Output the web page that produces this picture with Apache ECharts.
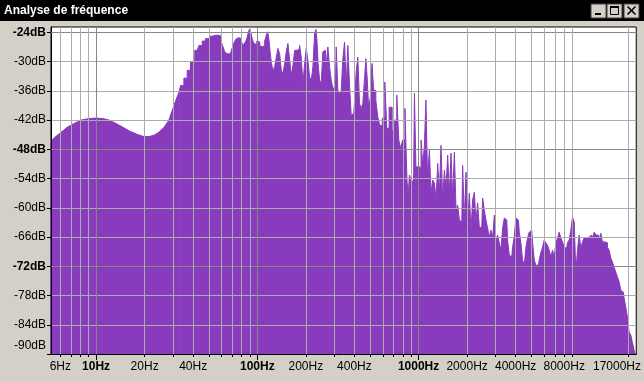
<!DOCTYPE html>
<html><head><meta charset="utf-8">
<script src="https://cdn.jsdelivr.net/npm/echarts@6/dist/echarts.min.js"></script>
<style>html,body{margin:0;padding:0;background:#d4d0c8;}#c{width:644px;height:382px;}</style>
</head><body><div id="c"></div>
<script>
const title = 'Analyse de fréquence';
const freqHz = [
5.19,5.57,6.07,6.61,7.31,8.08,9.05,10.0,11.05,12.0,13.3,14.7,16.2,17.9,19.8,21.3,22.9,24.5,26.4,28.3,30.4,
32.7,34.2,35.9,37.6,39.5,42.4,44.5,46.6,48.9,52.5,55.1,57.8,59.2,60.5,62.0,63.6,65.0,68.2,69.8,71.5,73.3,75.0,76.8,78.7,80.5,82.5,84.5,86.5,88.6,89.9,92.1,93.8,96.5,98.3,
100.3,102.2,104.7,107.1,109.7,112.4,115.0,116.7,119.0,121.2,123.5,126.5,129.7,132.6,135.9,139.2,142.4,146.0,149.5,152.9,156.7,160.6,164.3,168.3,172.4,180.7,185.1,189.4,194.1,198.8,
203.4,208.4,213.5,218.5,223.8,229.3,232.6,235.9,240.4,246.3,251.8,258.0,264.4,270.5,277.2,283.9,290.5,297.7,305.0,312.0,319.6,327.5,335.1,343.3,351.7,359.8,368.6,377.7,386.4,395.9,
405.5,414.9,425.1,435.5,445.6,456.5,467.7,474.4,485.4,495.1,509.4,519.0,534.1,551.9,565.4,584.3,607.2,627.4,642.7,670.9,700.3,720.6,744.6,762.9,784.8,807.5,839.2,855.0,867.3,888.5,909.0,931.1,954.1,971.8,
1000,1024,1048,1074,1100,1121,1153,1181,1209,1238,1269,1298,1330,1362,1394,1428,1463,1497,1534,1571,1607,1647,1688,1727,1769,1813,1854,1899,1946,1991,
2040,2090,2138,2191,2244,2296,2352,2410,2466,2526,2588,2648,2713,2780,2844,2914,2986,3054,3129,3206,3280,3360,3442,3522,3608,3696,3781,3874,3969,
4061,4160,4262,4361,4468,4578,4684,4799,4917,5030,5154,5280,5402,5534,5670,5801,5943,6089,6230,6383,6539,6690,6854,7022,7185,7361,7541,7715,7905,
8099,8286,8489,8697,8898,9117,9339,9555,9789,10030,10260,10510,10770,11020,11290,11570,11840,12120,12420,12710,13020,13340,13650,13980,14330,14660,
15020,15380,15740,16130,16520,16900,17320,17740,18150,18600,19060,19500,19970,20460,20940,21450,21970,22050
];
const levelDb = [
-46.5,-45.5,-44.5,-43.5,-42.7,-42.0,-41.7,-41.6,-41.7,-42.0,-42.7,-43.5,-44.3,-44.9,-45.4,-45.4,-45.1,-44.5,-43.5,-42.0,-39.0,
-36.2,-34.9,-33.4,-31.8,-30.1,-27.7,-26.7,-25.8,-25.3,-24.8,-24.6,-24.6,-24.8,-26.0,-27.0,-28.0,-28.4,-28.4,-27.7,-26.7,-25.8,-25.3,-25.1,-25.3,-25.8,-26.7,-26.2,-25.6,-24.3,-23.4,-23.9,-25.3,-26.3,-26.5,
-25.8,-26.0,-26.7,-27.0,-26.7,-25.8,-24.6,-23.9,-25.3,-28.0,-30.4,-31.8,-31.1,-29.1,-27.3,-28.4,-31.8,-32.5,-30.4,-28.0,-26.3,-29.7,-32.8,-30.8,-27.7,-27.3,-26.7,-29.1,-34.5,-30.4,
-27.3,-29.7,-33.2,-33.8,-31.1,-24.3,-23.4,-25.6,-30.4,-33.8,-34.5,-28.0,-27.7,-31.1,-27.0,-31.1,-33.8,-35.5,-35.2,-27.0,-35.9,-36.6,-35.9,-29.4,-26.0,-35.2,-26.7,-34.9,-41.0,-40.7,
-38.3,-32.1,-29.1,-38.6,-39.6,-38.6,-33.5,-29.4,-33.2,-39.6,-37.3,-30.4,-35.9,-37.9,-41.4,-43.1,-41.6,-34.2,-43.7,-39.4,-44.1,-42.0,-36.9,-46.1,-47.8,-46.1,-39.6,-54.3,-57.6,-53.3,-54.5,-54.5,-36.5,-51.7,
-51.5,-51.9,-46.1,-51.3,-47.2,-37.9,-53.7,-48.2,-57.0,-54.3,-54.9,-58.4,-50.9,-57.0,-47.2,-58.4,-52.3,-55.8,-49.2,-57.0,-48.8,-57.8,-48.6,-60.5,-59.5,-62.5,-62.9,-51.3,-62.5,-52.7,
-62.5,-57.0,-64.6,-58.4,-56.8,-62.9,-59.0,-64.0,-64.0,-58.0,-60.5,-62.5,-64.2,-66.0,-64.6,-66.2,-61.5,-67.0,-65.6,-67.2,-68.7,-64.2,-62.1,-62.5,-66.6,-69.7,-70.1,-68.1,-66.0,
-62.1,-62.5,-65.0,-67.2,-70.7,-71.8,-68.1,-66.2,-65.0,-64.6,-67.0,-70.7,-71.8,-71.8,-70.7,-69.1,-68.1,-66.6,-67.2,-67.7,-68.7,-70.1,-68.7,-70.1,-67.2,-66.2,-65.0,-66.2,-67.0,
-68.1,-68.3,-67.2,-66.6,-64.6,-61.9,-62.9,-73.2,-68.7,-65.6,-68.3,-67.0,-66.2,-66.2,-66.0,-66.2,-65.6,-66.2,-65.0,-65.6,-65.6,-66.6,-65.2,-67.0,-67.0,-67.2,
-68.1,-68.7,-70.3,-71.1,-72.2,-73.2,-74.2,-75.2,-76.9,-77.3,-78.5,-80.4,-82.4,-85.5,-86.1,-87.7,-89.2,-90
];
const gridHz = [6,7,8,9,10,20,30,40,50,60,70,80,90,100,200,300,400,500,600,700,800,900,1000,2000,3000,4000,5000,6000,7000,8000,9000,20000];
const decadeHz = [10,100,1000];
const labelHz = [6,10,20,40,100,200,400,1000,2000,4000,8000,17000];
const tickDb = [-90,-84,-78,-72,-66,-60,-54,-48,-42,-36,-30,-24];
const majorDb = [-72,-48,-24];
const smoothUpToHz = 32.7;

const lg = v => Math.log10(v);
const X_MIN = 0.7204, X_MAX = 4.35, Y_MIN = -90, Y_MAX = -22.91;
const FONT = '"Liberation Sans", Arial, sans-serif';
const LIGHT = '#ababab', DARK = '#868686', PURPLE = '#893bbd';

const pts = freqHz.map((f, i) => [lg(f), levelDb[i], f]);
const smoothPts = pts.filter(p => p[2] <= smoothUpToHz).map(p => [p[0], p[1]]);
const spikyPts = pts.filter(p => p[2] >= smoothUpToHz).map(p => [p[0], p[1]]);

const chart = echarts.init(document.getElementById('c'), null, {renderer: 'canvas'});
const richX = {
  n: {fontFamily: FONT, fontSize: 12, color: '#000'},
  b: {fontFamily: FONT, fontSize: 12, color: '#000', fontWeight: 'bold'}
};
const richY = {
  n: {fontFamily: FONT, fontSize: 12, color: '#000'},
  b: {fontFamily: FONT, fontSize: 12, color: '#000', fontWeight: 'bold'},
  low: {fontFamily: FONT, fontSize: 12, color: '#000', padding: [0, 0, 16, 0]}
};
const areaSeries = (data, step) => ({
  type: 'line', xAxisIndex: 0, yAxisIndex: 0, z: 1, silent: true, clip: true,
  symbol: 'none', step: step, data: data,
  lineStyle: {width: 1, color: PURPLE},
  areaStyle: {color: PURPLE, opacity: 1, origin: 'start'}
});
const option = {
  animation: false,
  backgroundColor: '#d4d0c8',
  grid: {left: 51, top: 27, width: 588, height: 327, show: true, backgroundColor: '#fff', borderColor: '#000', borderWidth: 1, z: 0},
  xAxis: [
    {type: 'value', min: X_MIN, max: X_MAX, position: 'bottom', z: 5,
     axisLine: {show: true, onZero: false, lineStyle: {color: '#000', width: 1}},
     axisTick: {show: true, customValues: gridHz.map(lg), length: 3, lineStyle: {color: '#000'}},
     axisLabel: {show: true, customValues: labelHz.map(lg), margin: 7, rich: richX,
       formatter: v => { const hz = Math.round(Math.pow(10, v)); return (decadeHz.includes(hz) ? '{b|' : '{n|') + hz + 'Hz}'; }},
     splitLine: {show: true, lineStyle: {color: LIGHT, width: 1}}},
    {type: 'value', min: X_MIN, max: X_MAX, position: 'bottom', z: 6,
     axisLine: {show: false, onZero: false},
     axisTick: {show: true, customValues: decadeHz.map(lg), length: 6, lineStyle: {color: '#000'}},
     axisLabel: {show: false},
     splitLine: {show: true, lineStyle: {color: DARK, width: 1}}}
  ],
  yAxis: [
    {type: 'value', min: Y_MIN, max: Y_MAX, position: 'left', z: 3,
     axisLine: {show: true, onZero: false, lineStyle: {color: '#000', width: 1}},
     axisTick: {show: true, customValues: tickDb, length: 4, lineStyle: {color: '#000'}},
     axisLabel: {show: true, customValues: tickDb, margin: 5, rich: richY,
       formatter: v => { const d = Math.round(v); if (d === -90) return '{low|-90dB}'; return (majorDb.includes(d) ? '{b|' : '{n|') + d + 'dB}'; }},
     splitLine: {show: true, lineStyle: {color: LIGHT, width: 1}}},
    {type: 'value', min: Y_MIN, max: Y_MAX, position: 'left', z: 4,
     axisLine: {show: false, onZero: false},
     axisTick: {show: false, customValues: majorDb},
     axisLabel: {show: false},
     splitLine: {show: true, lineStyle: {color: DARK, width: 1}}}
  ],
  series: [areaSeries(smoothPts, false), areaSeries(spikyPts, 'middle')],
  graphic: [
    {type: 'rect', shape: {x: 0, y: 0, width: 644, height: 21}, style: {fill: '#000'}, z: 10},
    {type: 'text', x: 4, y: 11, style: {text: title, fill: '#fff', font: 'bold 12px ' + FONT, verticalAlign: 'middle'}, z: 11},
    {type: 'rect', shape: {x: 591, y: 4, width: 15, height: 14}, style: {fill: '#d4d0c8', stroke: '#404040', lineWidth: 1}, z: 11},
    {type: 'rect', shape: {x: 595, y: 13, width: 6, height: 2}, style: {fill: '#000'}, z: 12},
    {type: 'rect', shape: {x: 607, y: 4, width: 15, height: 14}, style: {fill: '#d4d0c8', stroke: '#404040', lineWidth: 1}, z: 11},
    {type: 'rect', shape: {x: 610.5, y: 6.5, width: 8, height: 8}, style: {fill: 'none', stroke: '#000', lineWidth: 1}, z: 12},
    {type: 'rect', shape: {x: 610, y: 6, width: 9, height: 2}, style: {fill: '#000'}, z: 12},
    {type: 'rect', shape: {x: 624, y: 4, width: 15, height: 14}, style: {fill: '#d4d0c8', stroke: '#404040', lineWidth: 1}, z: 11},
    {type: 'line', shape: {x1: 627.5, y1: 6.5, x2: 635.5, y2: 14.5}, style: {stroke: '#000', lineWidth: 1.6}, z: 12},
    {type: 'line', shape: {x1: 635.5, y1: 6.5, x2: 627.5, y2: 14.5}, style: {stroke: '#000', lineWidth: 1.6}, z: 12}
  ]
};
chart.setOption(option);
</script>
</body></html>
